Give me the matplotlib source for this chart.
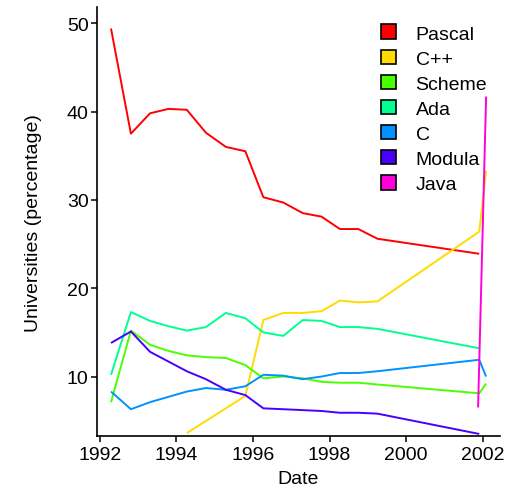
import matplotlib
matplotlib.use("Agg")
import matplotlib.pyplot as plt
from matplotlib.patches import Patch

plt.rcParams['font.family'] = ['Liberation Sans', 'DejaVu Sans']

dates = [1992.29, 1992.81, 1993.31, 1993.79, 1994.27, 1994.77, 1995.29, 1995.80,
         1996.27, 1996.79, 1997.30, 1997.79, 1998.27, 1998.75, 1999.25, 2001.91]

pascal = [49.4, 37.5, 39.8, 40.3, 40.2, 37.6, 36.0, 35.5, 30.3, 29.7, 28.5, 28.1, 26.7, 26.7, 25.6, 23.9]
ada = [10.2, 17.3, 16.3, 15.7, 15.2, 15.6, 17.2, 16.6, 15.0, 14.6, 16.4, 16.3, 15.6, 15.6, 15.4, 13.2]
modula = [13.8, 15.1, 12.8, 11.7, 10.6, 9.7, 8.5, 7.9, 6.4, 6.3, 6.2, 6.1, 5.9, 5.9, 5.8, 3.5]

cpp_dates = [1994.27, 1995.80, 1996.27, 1996.79, 1997.30, 1997.79, 1998.27, 1998.75, 1999.25, 2001.91, 2002.09]
cpp = [3.6, 7.8, 16.4, 17.2, 17.2, 17.4, 18.6, 18.4, 18.5, 26.4, 33.3]

dates_ext = dates + [2002.09]
scheme = [7.1, 15.2, 13.6, 12.9, 12.4, 12.2, 12.1, 11.3, 9.8, 10.0, 9.8, 9.4, 9.3, 9.3, 9.1, 8.1, 9.2]
c_lang = [8.3, 6.3, 7.1, 7.7, 8.3, 8.7, 8.5, 8.9, 10.2, 10.1, 9.7, 10.0, 10.4, 10.4, 10.6, 11.9, 10.0]

java_dates = [2001.88, 2002.09]
java = [6.5, 41.7]

colors = {"Pascal": "#FF0000", "C++": "#FFDB00", "Scheme": "#49FF00", "Ada": "#00FF92",
          "C": "#0092FF", "Modula": "#4900FF", "Java": "#FF00DB"}

series = [("Pascal", dates, pascal), ("C++", cpp_dates, cpp), ("Scheme", dates_ext, scheme),
          ("Ada", dates, ada), ("C", dates_ext, c_lang), ("Modula", dates, modula),
          ("Java", java_dates, java)]

fig = plt.figure(figsize=(5.07, 4.89), dpi=100)
ax = fig.add_axes([0.191, 0.106, 0.795, 0.877])

for name, x, y in series:
    ax.plot(x, y, color=colors[name], lw=1.4, solid_capstyle='butt')

ax.set_xlim(1991.92, 2002.45)
ax.set_ylim(3.25, 51.8)
ax.set_xticks([1992, 1994, 1996, 1998, 2000, 2002])
ax.set_yticks([10, 20, 30, 40, 50])
ax.tick_params(labelsize=14, length=4, width=1.1, color='black', labelcolor='black',
               direction='out', pad=2)
ax.tick_params(axis='x', pad=3)
for s in ['top', 'right']:
    ax.spines[s].set_visible(False)
for s in ['left', 'bottom']:
    ax.spines[s].set_linewidth(1.2)
ax.set_xlabel("Date", fontsize=14, labelpad=5)
ax.set_ylabel("Universities (percentage)", fontsize=14, labelpad=18)

handles = [Patch(facecolor=colors[n], edgecolor='black', linewidth=1.2, label=n) for n, _, _ in series]
ax.legend(handles=handles, loc='upper left', bbox_to_anchor=(0.705, 0.96), frameon=False,
          fontsize=14, handlelength=0.78, handleheight=0.78, labelspacing=0.36, handletextpad=1.0,
          borderaxespad=0, borderpad=0)

fig.savefig("out.png", dpi=100)
